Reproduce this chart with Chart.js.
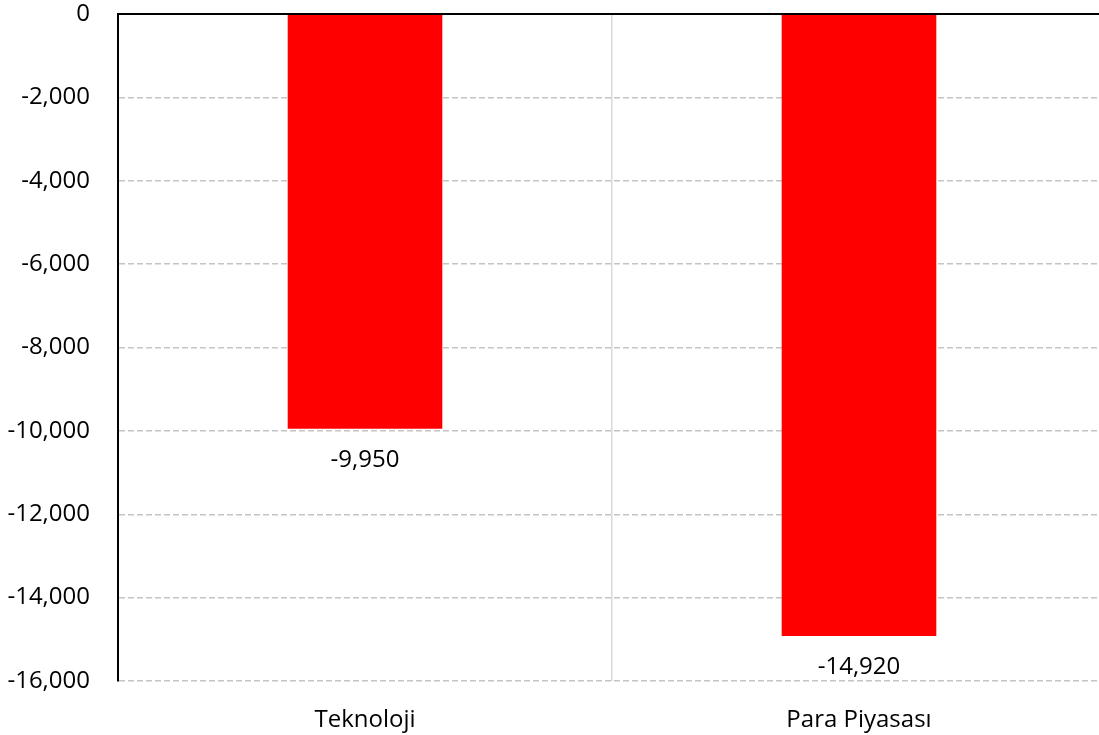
<!DOCTYPE html>
<html>
<head>
<meta charset="utf-8">
<script src="https://cdn.jsdelivr.net/npm/chart.js@4/dist/chart.umd.min.js"></script>
<style>
  html, body { margin: 0; padding: 0; background: #fff; }
  #kutu { width: 1099px; height: 735px; overflow: hidden; }
</style>
</head>
<body>
<!-- tuval biraz genis: sag kenar orijinaldeki gibi disarida kaliyor -->
<div id="kutu"><canvas id="grafik" width="1107" height="735"></canvas></div>
<script>
// veriler
const kategoriler = ['Teknoloji', 'Para Piyasası']
const degerler = [-9950, -14920]
const eksen_min = -16000
const eksen_max = 0
const eksen_adim = 2000

const yazi = "'Open Sans', sans-serif"
const bicim = v => Number(v).toLocaleString('en-US')

// cubuklarin altina deger yazan eklenti
const deger_yazisi = {
    id: 'degerYazisi',
    afterDatasetsDraw(chart) {
        const ctx = chart.ctx
        const meta = chart.getDatasetMeta(0)
        ctx.save()
        ctx.font = '24px ' + yazi
        ctx.fillStyle = '#000'
        ctx.textAlign = 'center'
        ctx.textBaseline = 'middle'
        meta.data.forEach((bar, i) => {
            ctx.fillText(bicim(degerler[i]), bar.x, bar.y + 31)
        })
        ctx.restore()
    }
}

const grafik = new Chart(document.getElementById('grafik'), {
    type: 'bar',
    data: {
        labels: kategoriler,
        datasets: [{
            data: degerler,
            backgroundColor: '#ff0000',
            borderWidth: 0,
            barPercentage: 0.313,
            categoryPercentage: 1
        }]
    },
    options: {
        responsive: false,
        animation: false,
        layout: { padding: { top: 14, right: 1, left: 0, bottom: 0 } },
        plugins: {
            legend: { display: false },
            tooltip: { enabled: false }
        },
        scales: {
            x: {
                grid: {
                    offset: true,
                    drawTicks: false,
                    color: c => c.index === 1 ? '#d9d9d9' : 'rgba(0,0,0,0)',
                    lineWidth: 1.5
                },
                border: { display: false },
                ticks: {
                    padding: 25,
                    color: '#000',
                    font: { family: yazi, size: 24 }
                },
                afterFit: s => { s.height = 54; s.paddingLeft = 0; s.paddingRight = 0 }
            },
            y: {
                min: eksen_min,
                max: eksen_max,
                grid: {
                    drawTicks: false,
                    color: c => (c.tick && c.tick.value === 0) ? '#000' : '#c4c4c4',
                    lineWidth: c => (c.tick && c.tick.value === 0) ? 2 : 1.5
                },
                border: {
                    display: true,
                    color: '#000',
                    width: 2,
                    dash: c => (c.tick && c.tick.value === 0) ? [] : [6, 3]
                },
                ticks: {
                    stepSize: eksen_adim,
                    padding: 28,
                    color: '#000',
                    font: { family: yazi, size: 24 },
                    callback: v => bicim(v)
                },
                afterFit: s => { s.width = 118; s.paddingTop = 0; s.paddingBottom = 0 }
            }
        }
    },
    plugins: [deger_yazisi]
})
</script>
</body>
</html>
